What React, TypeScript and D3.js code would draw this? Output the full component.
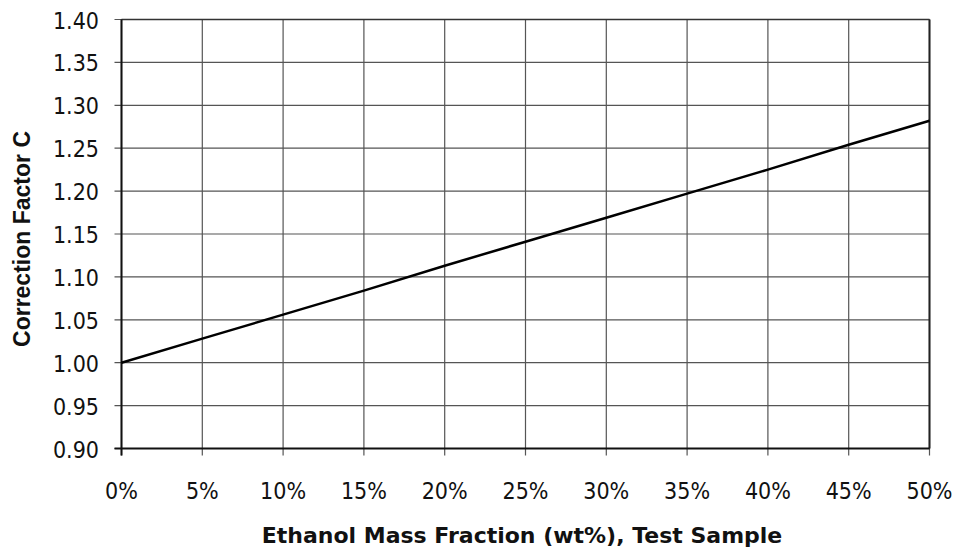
import React from "react";
import * as d3 from "d3";

const xValues = [0, 5, 10, 15, 20, 25, 30, 35, 40, 45, 50];
const yValues = [1.0, 1.028, 1.056, 1.084, 1.113, 1.141, 1.169, 1.197, 1.225, 1.254, 1.282];
const xTicks = [0, 5, 10, 15, 20, 25, 30, 35, 40, 45, 50];
const yTicks = [0.9, 0.95, 1.0, 1.05, 1.1, 1.15, 1.2, 1.25, 1.3, 1.35, 1.4];
const xTitle = "Ethanol Mass Fraction (wt%), Test Sample";
const yTitle = "Correction Factor C";

export default function App() {
  const W = 959, H = 549;
  const L = 121.5, R = 929.5, T = 19.5, B = 448.5;
  const x = d3.scaleLinear().domain([0, 50]).range([L, R]);
  const y = d3.scaleLinear().domain([0.9, 1.4]).range([B, T]);
  const line = d3.line<number>().x((_, i) => x(xValues[i])).y((d) => y(d));
  const font = "'DejaVu Sans Condensed', 'DejaVu Sans', Verdana, sans-serif";
  const xTitleFont = "'DejaVu Sans', Verdana, sans-serif";
  const yTitleFont = "'Liberation Sans', Arial, sans-serif";
  return (
    <svg width={W} height={H} style={{ position: "absolute", left: 0, top: 0, background: "#fff" }}>
      {xTicks.map((t) => (
        <line key={"gx" + t} x1={x(t)} x2={x(t)} y1={T} y2={B + 7} stroke="#555" strokeWidth={1.2} />
      ))}
      {yTicks.map((t) => (
        <line key={"gy" + t} x1={L - 7} x2={R} y1={y(t)} y2={y(t)} stroke="#555" strokeWidth={1.2} />
      ))}
      <line x1={R} x2={R} y1={T} y2={B} stroke="#222" strokeWidth={2} />
      <line x1={L} x2={R} y1={T} y2={T} stroke="#333" strokeWidth={1.5} />
      <line x1={L} x2={L} y1={T} y2={B + 7} stroke="#111" strokeWidth={2} />
      <line x1={L - 7} x2={R} y1={B} y2={B} stroke="#111" strokeWidth={2} />
      <path d={line(yValues) || ""} fill="none" stroke="#000" strokeWidth={2.5} />
      {yTicks.map((t) => (
        <text key={"ty" + t} x={99} y={y(t) + 9} textAnchor="end" fontFamily={font} fontSize={23} fill="#111">
          {t.toFixed(2)}
        </text>
      ))}
      {xTicks.map((t) => (
        <text key={"tx" + t} x={x(t)} y={499} textAnchor="middle" fontFamily={font} fontSize={23} fill="#111">
          {t + "%"}
        </text>
      ))}
      <text x={522} y={543} textAnchor="middle" fontFamily={xTitleFont} fontSize={22} fontWeight="bold" fill="#111">
        {xTitle}
      </text>
      <text transform={`translate(30, 239) rotate(-90)`} textAnchor="middle" fontFamily={yTitleFont} fontSize={23} fontWeight="bold" fill="#111">
        {yTitle}
      </text>
    </svg>
  );
}
